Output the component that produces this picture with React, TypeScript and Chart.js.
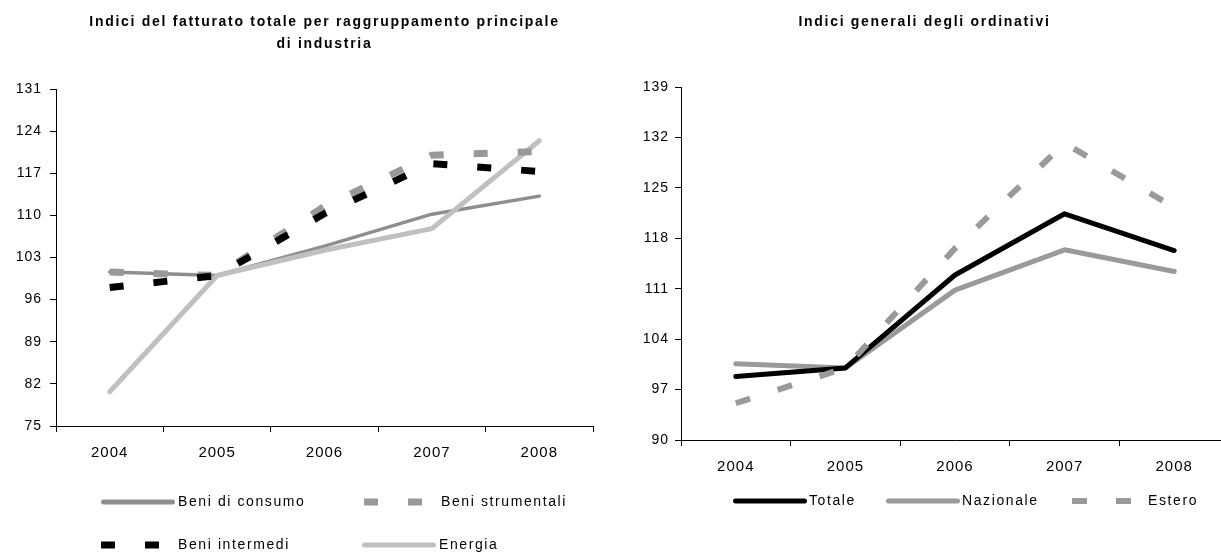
import React, { useEffect, useRef } from 'react';
import { Chart, registerables } from 'chart.js';

Chart.register(...registerables);

// ---------- data ----------
const years = ['2004', '2005', '2006', '2007', '2008'];

const leftTitle = ['Indici del fatturato totale per raggruppamento principale', 'di industria'];
const beniConsumo = [100.6, 100.0, 104.9, 110.2, 113.2];
const beniStrumentali = [100.6, 100.0, 111.5, 120.0, 120.6];
const beniIntermedi = [98.0, 100.0, 110.3, 118.6, 117.3];
const energia = [80.7, 100.0, 104.2, 107.8, 122.4];
const leftMin = 75;
const leftMax = 131;
const leftStep = 7;

const rightTitle = 'Indici generali degli ordinativi';
const totale = [98.8, 100.0, 112.9, 121.4, 116.3];
const nazionale = [100.6, 100.0, 110.8, 116.4, 113.4];
const estero = [95.1, 100.0, 116.6, 131.2, 122.3];
const rightMin = 90;
const rightMax = 139;
const rightStep = 7;

// ---------- style ----------
const FONT = "'Liberation Sans', Arial, sans-serif";

const spacingPlugin = {
  id: 'spacing',
  beforeDraw(chart: any) {
    (chart.ctx as any).letterSpacing = '1px';
    const tb = chart.titleBlock;
    if (tb && !tb.__spaced) {
      const orig = tb.draw.bind(tb);
      tb.draw = (...a: any[]) => {
        const ctx = chart.ctx as any;
        ctx.save();
        ctx.letterSpacing = '1.7px';
        orig(...a);
        ctx.restore();
      };
      tb.__spaced = true;
    }
  },
};

const gridLegend = {
  id: 'gridLegend',
  afterDraw(chart: any, _args: any, opts: any) {
    const ctx = chart.ctx;
    const positions = opts.positions || [];
    chart.data.datasets.forEach((ds: any, i: number) => {
      const pos = positions[i];
      if (!pos) return;
      ctx.save();
      ctx.strokeStyle = ds.borderColor;
      ctx.lineWidth = ds.legendWidth ?? ds.borderWidth;
      ctx.setLineDash(ds.borderDash || []);
      ctx.lineCap = ds.borderCapStyle || 'butt';
      const inset = ctx.lineCap === 'round' ? ctx.lineWidth / 2 : 0;
      ctx.beginPath();
      ctx.moveTo(pos.x + inset, pos.y);
      ctx.lineTo(pos.x + opts.sampleWidth - inset, pos.y);
      ctx.stroke();
      ctx.setLineDash([]);
      (ctx as any).letterSpacing = opts.letterSpacing || '0px';
      ctx.font = `${opts.fontSize}px ${FONT}`;
      ctx.fillStyle = '#000';
      ctx.textAlign = 'left';
      ctx.textBaseline = 'middle';
      ctx.fillText(ds.label, pos.x + opts.sampleWidth + opts.gap, pos.y);
      ctx.restore();
    });
  },
};

function makeOptions(cfg: any) {
  return {
    responsive: false,
    animation: false,
    layout: { padding: cfg.padding },
    plugins: {
      legend: { display: false },
      tooltip: { enabled: false },
      title: {
        display: true,
        text: cfg.title,
        fullSize: cfg.titleFullSize,
        color: '#000',
        font: { family: FONT, size: 14, weight: 'bold', lineHeight: 22 / 14 },
        padding: { top: 11, bottom: cfg.titleBottom },
      },
      gridLegend: cfg.legend,
    },
    elements: { point: { radius: 0 }, line: { tension: 0 } },
    scales: {
      x: {
        type: 'category',
        offset: true,
        grid: {
          offset: true,
          drawOnChartArea: false,
          drawTicks: true,
          tickLength: 6,
          color: '#000',
        },
        border: { color: '#000', width: 1 },
        ticks: {
          color: '#000',
          font: { family: FONT, size: 15 },
          padding: 12,
          maxRotation: 0,
          autoSkip: false,
        },
        afterFit: (scale: any) => {
          scale.height = 40;
        },
      },
      y: {
        min: cfg.min,
        max: cfg.max,
        grid: {
          drawOnChartArea: false,
          drawTicks: true,
          tickLength: 6,
          color: '#000',
        },
        border: { color: '#000', width: 1 },
        ticks: {
          stepSize: cfg.step,
          color: '#000',
          font: { family: FONT, size: 14 },
          padding: cfg.yPad,
        },
        afterFit: (scale: any) => {
          scale.width = cfg.yWidth;
        },
      },
    },
  };
}

function LineChart(props: { config: any; left: number; width: number }) {
  const ref = useRef<HTMLCanvasElement | null>(null);
  useEffect(() => {
    if (!ref.current) return;
    const chart = new Chart(ref.current, props.config);
    return () => chart.destroy();
  }, []);
  return (
    <canvas
      ref={ref}
      width={props.width}
      height={553}
      style={{ position: 'absolute', left: props.left, top: 0, width: props.width, height: 553 }}
    />
  );
}

const leftConfig: any = {
  type: 'line',
  data: {
    labels: years,
    datasets: [
      {
        label: 'Beni di consumo',
        data: beniConsumo,
        borderColor: '#8e8e8e',
        borderWidth: 3.5,
        legendWidth: 5,
        borderCapStyle: 'round',
        borderJoinStyle: 'round',
        order: 3,
      },
      {
        label: 'Beni strumentali',
        data: beniStrumentali,
        borderColor: '#999999',
        borderWidth: 7,
        borderDash: [14, 30],
        borderCapStyle: 'butt',
        order: 1,
      },
      {
        label: 'Beni intermedi',
        data: beniIntermedi,
        borderColor: '#000000',
        borderWidth: 7,
        borderDash: [14, 30],
        borderCapStyle: 'butt',
        order: 0,
      },
      {
        label: 'Energia',
        data: energia,
        borderColor: '#c0c0c0',
        borderWidth: 5,
        borderCapStyle: 'round',
        borderJoinStyle: 'round',
        order: 2,
      },
    ],
  },
  options: makeOptions({
    title: leftTitle,
    titleFullSize: false,
    titleBottom: 34,
    padding: { left: 0, right: 17, top: 0, bottom: 87 },
    min: leftMin,
    max: leftMax,
    step: leftStep,
    yWidth: 56,
    yPad: 8,
    legend: {
      sampleWidth: 74,
      gap: 3,
      fontSize: 14,
      letterSpacing: '1.6px',
      positions: [
        { x: 101, y: 502 },
        { x: 364, y: 502 },
        { x: 101, y: 545 },
        { x: 362, y: 545 },
      ],
    },
  }),
  plugins: [spacingPlugin, gridLegend],
};

const rightConfig: any = {
  type: 'line',
  data: {
    labels: years,
    datasets: [
      {
        label: 'Totale',
        data: totale,
        borderColor: '#000000',
        borderWidth: 5,
        borderCapStyle: 'round',
        borderJoinStyle: 'round',
        order: 1,
      },
      {
        label: 'Nazionale',
        data: nazionale,
        borderColor: '#9a9a9a',
        borderWidth: 5,
        borderCapStyle: 'round',
        borderJoinStyle: 'round',
        order: 2,
      },
      {
        label: 'Estero',
        data: estero,
        borderColor: '#9a9a9a',
        borderWidth: 6,
        borderDash: [15, 29],
        borderCapStyle: 'butt',
        order: 0,
      },
    ],
  },
  options: makeOptions({
    title: rightTitle,
    titleFullSize: true,
    titleBottom: 54,
    padding: { left: 0, right: 43, top: 0, bottom: 73 },
    min: rightMin,
    max: rightMax,
    step: rightStep,
    yWidth: 61,
    yPad: 6,
    legend: {
      sampleWidth: 74,
      gap: 2,
      fontSize: 14,
      letterSpacing: '1.6px',
      positions: [
        { x: 113, y: 501 },
        { x: 266, y: 501 },
        { x: 452, y: 501 },
      ],
    },
  }),
  plugins: [spacingPlugin, gridLegend],
};

export default function App() {
  return (
    <div
      style={{
        position: 'absolute',
        left: 0,
        top: 0,
        width: 1221,
        height: 553,
        overflow: 'hidden',
        background: '#fff',
      }}
    >
      <LineChart config={leftConfig} left={0} width={610} />
      <LineChart config={rightConfig} left={620} width={652} />
    </div>
  );
}
